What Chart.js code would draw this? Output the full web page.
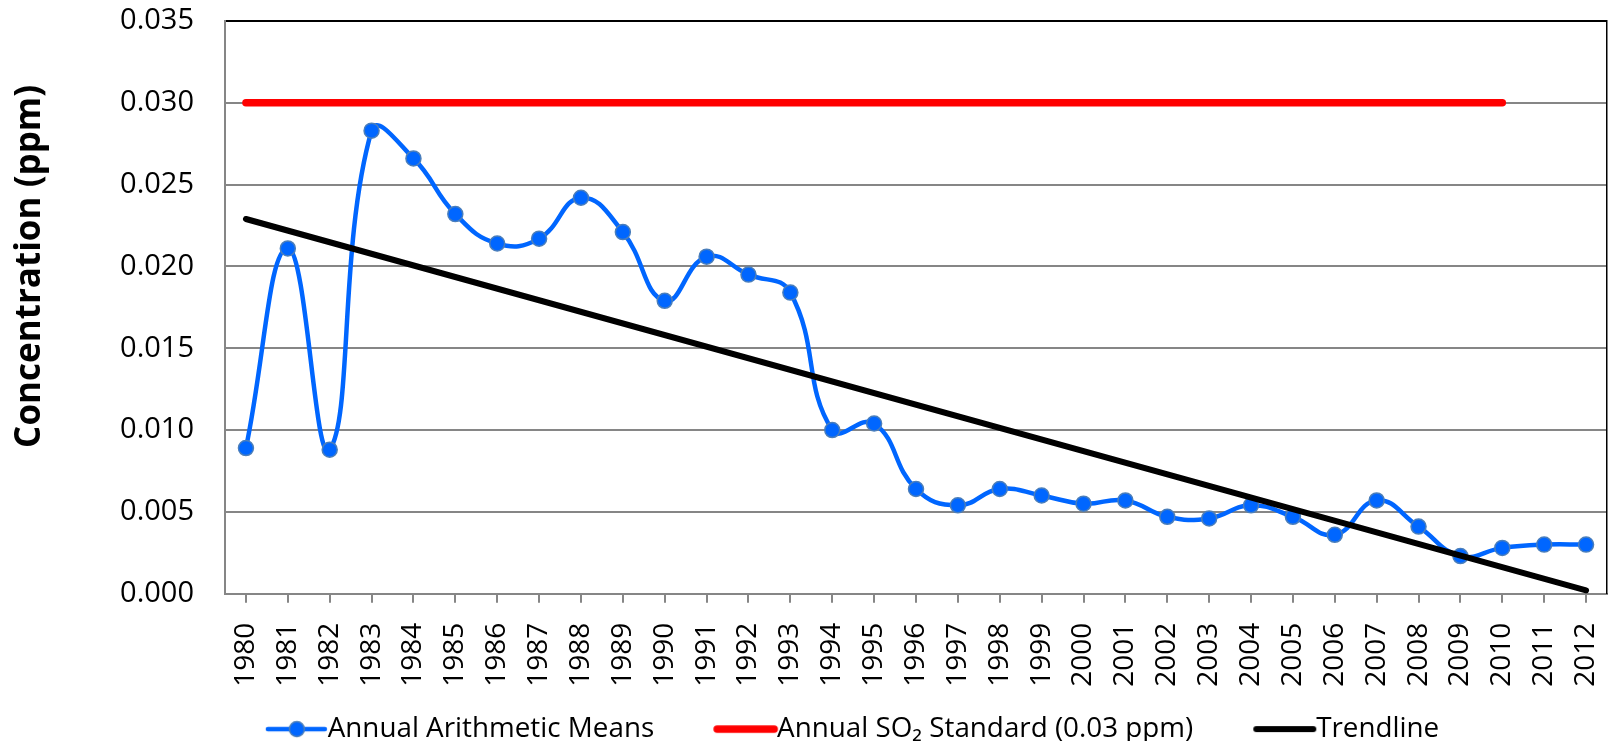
<!DOCTYPE html>
<html>
<head>
<meta charset="utf-8">
<script src="https://cdn.jsdelivr.net/npm/chart.js@4/dist/chart.umd.min.js"></script>
<style>
  html, body { margin: 0; padding: 0; background: #fff; }
  #wrap { width: 1608px; height: 741px; position: relative; }
</style>
</head>
<body>
<div id="wrap"><canvas id="so2Chart"></canvas></div>
<script>
// ---- data ----
const years = ["1980","1981","1982","1983","1984","1985","1986","1987","1988","1989",
  "1990","1991","1992","1993","1994","1995","1996","1997","1998","1999","2000","2001",
  "2002","2003","2004","2005","2006","2007","2008","2009","2010","2011","2012"];

const annualMeans = [0.0089, 0.0211, 0.0088, 0.0283, 0.0266, 0.0232, 0.0214, 0.0217, 0.0242, 0.0221,
  0.0179, 0.0206, 0.0195, 0.0184, 0.0100, 0.0104, 0.0064, 0.0054, 0.0064, 0.0060, 0.0055, 0.0057,
  0.0047, 0.0046, 0.0054, 0.0047, 0.0036, 0.0057, 0.0041, 0.0023, 0.0028, 0.0030, 0.0030];

// standard drawn from 1980 to 2010 only
const standardStart = "1980", standardEnd = "2010", standardValue = 0.03;
// trendline end points (straight line, gaps spanned)
const trendStart = 0.0229, trendEnd = 0.0002;

const yTicks = [0, 0.005, 0.01, 0.015, 0.02, 0.025, 0.03, 0.035];

const standardData = years.map(y => (y === standardStart || y === standardEnd) ? standardValue : null);
const trendData = years.map((y, i) => i === 0 ? trendStart : (i === years.length - 1 ? trendEnd : null));

const BLUE = "#0066ff";
const GRID = "#868686";
const FONT = "'Open Sans', 'DejaVu Sans', sans-serif";

// legend sample: a line (plus marker for the first series) drawn into a small canvas
function legendSample(color, width, withDot) {
  const c = document.createElement("canvas");
  c.width = 136; c.height = 20;
  const g = c.getContext("2d");
  g.strokeStyle = color;
  g.lineWidth = width;
  g.lineCap = "round";
  g.beginPath();
  g.moveTo(73, 10);
  g.lineTo(130, 10);
  g.stroke();
  if (withDot) {
    g.beginPath();
    g.arc(102, 10, 7.5, 0, Math.PI * 2);
    g.fillStyle = color;
    g.fill();
    g.lineWidth = 1.5;
    g.strokeStyle = "#4a7ebb";
    g.stroke();
  }
  return c;
}
const samples = [legendSample(BLUE, 4.5, true), legendSample("#ff0000", 7.5, false), legendSample("#000", 6, false)];

// shift legend a little (reference legend is off-centre and lower)
const nudgeLegend = {
  id: "nudgeLegend",
  afterLayout(chart) {
    const l = chart.legend;
    if (!l) return;
    l.left += 22; l.right += 22;
    l.top += 12; l.bottom += 12;
  }
};

const ctx = document.getElementById("so2Chart").getContext("2d");
new Chart(ctx, {
  type: "line",
  data: {
    labels: years,
    datasets: [
      {
        label: "Annual Arithmetic Means",
        data: annualMeans,
        borderColor: BLUE,
        backgroundColor: BLUE,
        borderWidth: 4.5,
        tension: 0.45,
        pointRadius: 7.5,
        pointBorderWidth: 1.5,
        pointBorderColor: "#4a7ebb",
        pointBackgroundColor: BLUE,
        order: 1
      },
      {
        label: "Annual SO\u2082 Standard (0.03 ppm)",
        data: standardData,
        spanGaps: true,
        borderColor: "#ff0000",
        backgroundColor: "#ff0000",
        borderWidth: 7.5,
        borderCapStyle: "round",
        pointRadius: 0,
        order: 2
      },
      {
        label: "Trendline",
        data: trendData,
        spanGaps: true,
        borderColor: "#000",
        backgroundColor: "#000",
        borderWidth: 6,
        borderCapStyle: "round",
        pointRadius: 0,
        order: 0
      }
    ]
  },
  options: {
    responsive: true,
    maintainAspectRatio: false,
    animation: false,
    layout: { autoPadding: false, padding: { top: 21, right: 1, left: 0, bottom: 0 } },
    plugins: {
      tooltip: { enabled: false },
      legend: {
        position: "bottom",
        labels: {
          usePointStyle: true,
          pointStyleWidth: 102,
          padding: 7,
          color: "#000",
          font: { family: FONT, size: 27.8 },
          sort: (a, b) => a.datasetIndex - b.datasetIndex,
          generateLabels(chart) {
            const items = Chart.defaults.plugins.legend.labels.generateLabels(chart);
            items.forEach(it => { it.pointStyle = samples[it.datasetIndex]; it.lineWidth = 1; });
            return items;
          }
        }
      }
    },
    scales: {
      x: {
        type: "category",
        offset: true,
        grid: {
          display: true,
          drawOnChartArea: false,
          drawTicks: true,
          tickLength: 9,
          color: GRID,
          lineWidth: 2
        },
        border: { color: GRID, width: 2 },
        ticks: {
          minRotation: 90,
          maxRotation: 90,
          autoSkip: false,
          padding: 20,
          color: "#000",
          font: { family: FONT, size: 28 }
        },
        afterFit(scale) {
          scale.height = 102.5;
          scale.paddingLeft = 0;
          scale.paddingRight = 0;
        }
      },
      y: {
        min: 0,
        max: 0.035,
        afterBuildTicks(scale) { scale.ticks = yTicks.map(v => ({ value: v })); },
        grid: {
          drawTicks: false,
          lineWidth: 2,
          color: c => (Math.abs(c.tick.value - 0.035) < 1e-9 ? "#000" : GRID)
        },
        border: { color: GRID, width: 2 },
        ticks: {
          padding: 31,
          color: "#000",
          font: { family: FONT, size: 29 },
          callback: v => Number(v).toFixed(3)
        },
        title: {
          display: true,
          // leading spaces lift the title above the axis centre, as in the reference
          text: "         Concentration (ppm)",
          color: "#000",
          font: { family: FONT, size: 35, weight: "bold" },
          padding: { top: 9, bottom: 0 }
        },
        afterFit(scale) {
          scale.width = 225;
          scale.paddingTop = 0;
          scale.paddingBottom = 0;
        }
      },
      // right edge of the plot frame (black), no ticks
      yRight: {
        position: "right",
        min: 0,
        max: 0.035,
        grid: { display: false, drawTicks: false },
        border: { display: true, color: "#000", width: 1.5 },
        ticks: { display: false },
        afterFit(scale) {
          scale.width = 0;
          scale.paddingTop = 0;
          scale.paddingBottom = 0;
        }
      }
    }
  },
  plugins: [nudgeLegend]
});
</script>
</body>
</html>
